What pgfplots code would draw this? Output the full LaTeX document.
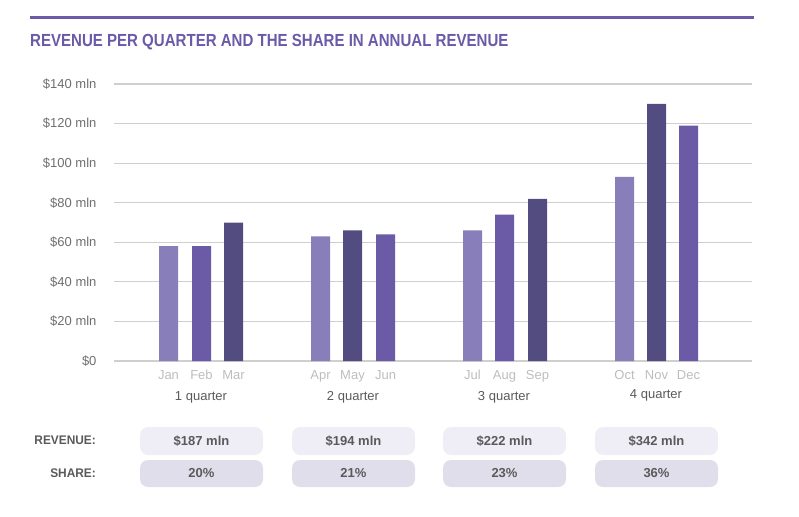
\documentclass[border=0pt]{standalone}
\usepackage{fontspec}
\setmainfont{Liberation Sans}
\newfontfamily\condfont[FakeStretch=0.86]{Liberation Sans}
\usepackage{pgfplots}
\pgfplotsset{compat=1.18}
\definecolor{cLight}{HTML}{877EBA}
\definecolor{cMid}{HTML}{6B5BA7}
\definecolor{cDark}{HTML}{524C81}
\definecolor{cTitle}{HTML}{6A5AA8}
\definecolor{cGrid}{HTML}{CFCFCF}
\definecolor{cTick}{HTML}{6E6E6E}
\definecolor{cMonth}{HTML}{BDBDBD}
\definecolor{cText}{HTML}{5A5A5A}
\definecolor{cBoxA}{HTML}{EFEEF7}
\definecolor{cBoxB}{HTML}{E1DEEC}
\begin{document}
\begin{tikzpicture}
\path[use as bounding box] (0pt,0pt) rectangle (799pt,-516pt);
% top rule and title
\draw[cTitle, line width=3pt] (30pt,-18pt) -- (754pt,-18pt);
\node[anchor=base west, inner sep=0pt, text=cTitle, font=\condfont\bfseries\fontsize{17.5}{19}\selectfont] at (30pt,-47pt) {REVENUE PER QUARTER AND THE SHARE IN ANNUAL REVENUE};
\begin{axis}[
  at={(114pt,-361pt)}, anchor=south west,
  scale only axis, width=638pt, height=277pt,
  xmin=114, xmax=752, ymin=0, ymax=140,
  axis line style={draw=none},
  major tick length=0pt,
  ybar, bar shift=0pt, bar width=19,
  ytick={0,20,40,60,80,100,120,140},
  yticklabels={\$0,\$20 mln,\$40 mln,\$60 mln,\$80 mln,\$100 mln,\$120 mln,\$140 mln},
  yticklabel style={anchor=east, xshift=-14pt, text=cTick, font=\fontsize{13}{15}\selectfont},
  xtick={168.5,201.5,233.5,320.5,352.5,385.5,472.5,504.5,537.5,624.5,656.5,688.5},
  xticklabels={Jan,Feb,Mar,Apr,May,Jun,Jul,Aug,Sep,Oct,Nov,Dec},
  xticklabel style={text=cMonth, font=\fontsize{13}{15}\selectfont, yshift=-6pt},
  ymajorgrids, xmajorgrids=false,
  major grid style={cGrid, line width=1.2pt},
  clip=false,
]
\addplot[fill=cLight, draw=none] coordinates {(168.5,58) (320.5,63) (472.5,66) (624.5,93)};
\addplot[fill=cMid, draw=none] coordinates {(201.5,58) (385.5,64) (504.5,74) (688.5,119)};
\addplot[fill=cDark, draw=none] coordinates {(233.5,70) (352.5,66) (537.5,82) (656.5,130)};
\end{axis}
% quarter labels
\begin{scope}[every node/.style={text=cText, font=\fontsize{13}{15}\selectfont, inner sep=0pt}]
\node at (201pt,-397pt) {1 quarter};
\node at (353pt,-397pt) {2 quarter};
\node at (504pt,-397pt) {3 quarter};
\node at (656pt,-395pt) {4 quarter};
\end{scope}
% table
\begin{scope}[every node/.style={text=cText, font=\bfseries\fontsize{12.5}{14}\selectfont, inner sep=0pt}]
\node[anchor=east, xscale=0.95] at (96pt,-440pt) {REVENUE:};
\node[anchor=east, xscale=0.95] at (96pt,-473pt) {SHARE:};
\foreach \x/\r/\s in {140/\$187 mln/20\%, 292/\$194 mln/21\%, 443/\$222 mln/23\%, 595/\$342 mln/36\%}{
  \fill[cBoxA, rounded corners=8pt] (\x pt,-427pt) rectangle ++(123pt,-28pt);
  \fill[cBoxB, rounded corners=8pt] (\x pt,-460pt) rectangle ++(123pt,-27pt);
  \node[font=\bfseries\fontsize{13}{15}\selectfont] at (\x pt+61.5pt,-441pt) {\r};
  \node[font=\bfseries\fontsize{13}{15}\selectfont] at (\x pt+61.5pt,-473.5pt) {\s};
}
\end{scope}
\end{tikzpicture}
\end{document}
